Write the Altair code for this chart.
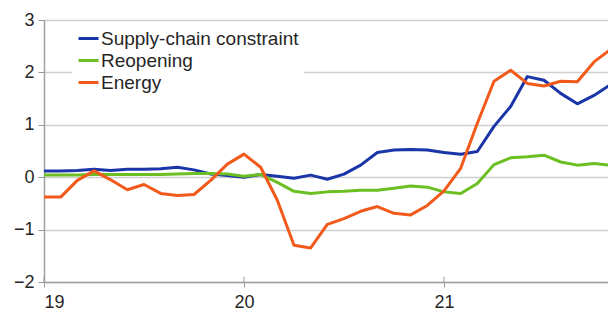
import altair as alt
import pandas as pd

# Monthly observations, Jan 2019 .. Nov 2021
years = [2019] * 12 + [2020] * 12 + [2021] * 11
month_nums = list(range(1, 13)) + list(range(1, 13)) + list(range(1, 12))

supply = [0.12, 0.12, 0.13, 0.15, 0.13, 0.15, 0.15, 0.16, 0.19, 0.14, 0.06, 0.03,
          0.00, 0.05, 0.02, -0.02, 0.04, -0.04, 0.06, 0.23, 0.47, 0.52, 0.53, 0.52,
          0.47, 0.44, 0.49, 0.97, 1.35, 1.92, 1.85, 1.60, 1.40, 1.56, 1.77]
reopening = [0.04, 0.04, 0.04, 0.05, 0.05, 0.05, 0.05, 0.05, 0.06, 0.07, 0.07, 0.06,
             0.02, 0.05, -0.10, -0.27, -0.31, -0.28, -0.27, -0.25, -0.25, -0.21, -0.17, -0.19,
             -0.28, -0.31, -0.12, 0.24, 0.37, 0.39, 0.42, 0.29, 0.23, 0.26, 0.23]
energy = [-0.38, -0.38, -0.06, 0.12, -0.05, -0.24, -0.14, -0.31, -0.35, -0.33, -0.06, 0.25,
          0.44, 0.19, -0.44, -1.30, -1.35, -0.90, -0.79, -0.65, -0.56, -0.69, -0.72, -0.54,
          -0.26, 0.17, 1.03, 1.83, 2.04, 1.79, 1.74, 1.83, 1.82, 2.20, 2.44]

series_names = ["Supply-chain constraint", "Reopening", "Energy"]
series_colors = ["#1a35a8", "#6cbf22", "#f25a1c"]
x_ticks = [19, 20, 21]
y_ticks = [-2, -1, 0, 1, 2, 3]

xpos = [(y - 2000) + (m - 1) / 12 for y, m in zip(years, month_nums)]
rows = []
for name, vals in zip(series_names, [supply, reopening, energy]):
    for xv, v in zip(xpos, vals):
        rows.append({"x": xv, "value": v, "series": name})
df = pd.DataFrame(rows)

font = "Liberation Sans"

xscale = alt.Scale(domain=[19, 21.82], nice=False, zero=False)
yscale = alt.Scale(domain=[-2, 3], nice=False)

lines = alt.Chart(df).mark_line(strokeWidth=3, strokeJoin="round", clip=False).encode(
    x=alt.X("x:Q", scale=xscale,
            axis=alt.Axis(values=x_ticks, format="d", title=None, grid=False,
                          tickSize=5, tickColor="#999999", tickWidth=1,
                          domainColor="#a0a0a0", domainWidth=1.5,
                          labelFontSize=18, labelFont=font, labelColor="#262626",
                          labelPadding=6)),
    y=alt.Y("value:Q", scale=yscale,
            axis=alt.Axis(values=y_ticks, title=None, grid=True,
                          gridColor="#cfcfcf", gridWidth=1.5,
                          tickSize=6, tickColor="#999999", tickWidth=1,
                          domainColor="#a0a0a0", domainWidth=1.5,
                          labelFontSize=18, labelFont=font, labelColor="#262626",
                          labelPadding=4)),
    color=alt.Color("series:N",
                    scale=alt.Scale(domain=series_names, range=series_colors),
                    sort=series_names,
                    legend=alt.Legend(title=None, orient="none", legendX=28, legendY=2,
                                      symbolType="stroke", symbolSize=400,
                                      symbolStrokeWidth=3, labelFontSize=19,
                                      labelFont=font, labelColor="#262626",
                                      labelOffset=1, labelLimit=400, rowPadding=0,
                                      padding=5, fillColor="white")),
    order=alt.Order("x:Q"),
)

tick_df = pd.DataFrame({"t": x_ticks, "lo": [-2] * 3, "hi": [-1.9] * 3})
ticks_up = alt.Chart(tick_df).mark_rule(color="#999999", strokeWidth=1).encode(
    x=alt.X("t:Q", scale=xscale),
    y=alt.Y("lo:Q", scale=yscale),
    y2="hi:Q",
)

chart = alt.layer(ticks_up, lines).properties(
    width=564, height=262,
    autosize=alt.AutoSizeParams(type="none"),
    padding={"left": 36, "top": 12, "right": 0, "bottom": 30},
).configure_view(stroke=None).configure(background="white")

chart.save("out.html", embed_options={"renderer": "svg", "actions": False})
